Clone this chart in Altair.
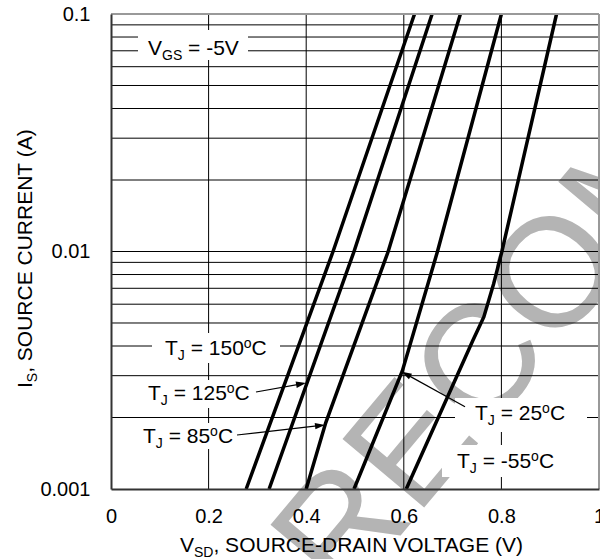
import math
import altair as alt
import pandas as pd

# ---------------- data ----------------
temps = ["150", "125", "85", "25", "-55"]
v_150 = [0.277, 0.455, 0.622]
i_150 = [0.001, 0.01, 0.1]
v_125 = [0.324, 0.498, 0.658]
i_125 = [0.001, 0.01, 0.1]
v_85 = [0.400, 0.440, 0.568, 0.716]
i_85 = [0.001, 0.0019, 0.01, 0.1]
v_25 = [0.498, 0.597, 0.669, 0.800]
i_25 = [0.001, 0.00314, 0.01, 0.1]
v_m55 = [0.605, 0.741, 0.764, 0.784, 0.801, 0.913]
i_m55 = [0.001, 0.0042, 0.0053, 0.0073, 0.01, 0.1]

x_ticks = [0, 0.2, 0.4, 0.6, 0.8, 1.0]
y_ticks = [0.001, 0.01, 0.1]
x_grid = [0.2, 0.4, 0.6, 0.8]
y_grid = [0.002, 0.003, 0.004, 0.005, 0.006, 0.007, 0.008, 0.009, 0.01,
          0.02, 0.03, 0.04, 0.05, 0.06, 0.07, 0.08, 0.09]

rows = []
for name, vs, iss in [("150", v_150, i_150), ("125", v_125, i_125), ("85", v_85, i_85),
                      ("25", v_25, i_25), ("-55", v_m55, i_m55)]:
    for v, i in zip(vs, iss):
        rows.append({"T": name, "v": v, "i": i})
df = pd.DataFrame(rows)

# ---------------- layout ----------------
FONT = "Liberation Sans"
W, H = 488, 475
PX0, PY0 = 111, 14
one = pd.DataFrame({"a": [0]})

CW = {" ": 278, ",": 278, "-": 333, ".": 278, "=": 584, "(": 333, ")": 333,
      "A": 667, "C": 722, "D": 722, "E": 667, "G": 778, "I": 278, "J": 500,
      "L": 556, "N": 722, "O": 778, "R": 722, "S": 667, "T": 611, "U": 722,
      "V": 667, "o": 556}
for d in "0123456789":
    CW[d] = 556


def tw(s, size):
    return sum(CW.get(c, 600) for c in s) / 1000.0 * size


def rich(segments, x0, y0, angle=0):
    """segments: (text, size, baseline shift); x0,y0 in page pixels."""
    out = []
    pos = 0.0
    for text, size, dy in segments:
        lead = len(text) - len(text.lstrip(" "))
        pos += tw(" " * lead, size)
        core = text.strip(" ")
        if angle == 0:
            x, y = x0 + pos, y0 + dy
        else:  # 270 degrees: text runs upward, shift goes right
            x, y = x0 + dy, y0 - pos
        out.append(
            alt.Chart(one).mark_text(text=core, fontSize=size, font=FONT, align="left",
                                     baseline="alphabetic", color="black", angle=angle)
            .encode(x=alt.value(x - PX0), y=alt.value(y - PY0))
        )
        pos += tw(text.lstrip(" "), size)
    return out


def box(x1, y1, x2, y2):
    return alt.Chart(one).mark_rect(fill="white", stroke=None).encode(
        x=alt.value(x1 - PX0), x2=alt.value(x2 - PX0),
        y=alt.value(y1 - PY0), y2=alt.value(y2 - PY0))


def arrow(tx, ty, hx, hy):
    dx, dy = hx - tx, hy - ty
    L = math.hypot(dx, dy)
    ang = math.degrees(math.atan2(dy, dx)) % 360
    ex, ey = hx - dx / L * 6, hy - dy / L * 6
    line = alt.Chart(one).mark_rule(color="black", strokeWidth=1.2).encode(
        x=alt.value(tx - PX0), y=alt.value(ty - PY0),
        x2=alt.value(ex - PX0), y2=alt.value(ey - PY0))
    head = alt.Chart(one).mark_point(shape="M0,0L-1,-0.32L-1,0.32Z", filled=True,
                                     color="black", opacity=1, size=400,
                                     angle=ang, strokeWidth=0).encode(
        x=alt.value(hx - PX0), y=alt.value(hy - PY0))
    return [line, head]


x_scale = alt.Scale(domain=[0, 1], nice=False, zero=False)
y_scale = alt.Scale(type="log", domain=[0.001, 0.1], nice=False)

y_label_expr = ("abs(datum.value-0.001)<1e-6 ? '0.001' : "
                "(abs(datum.value-0.01)<1e-6 ? '0.01' : "
                "(abs(datum.value-0.1)<1e-6 ? '0.1' : ''))")

x_axis = alt.Axis(values=x_ticks, format=".1~f", title=None, grid=False, ticks=False,
                  domain=True, domainColor="#333333", domainWidth=2,
                  labelFont=FONT, labelFontSize=20, labelColor="black",
                  labelPadding=17, labelFlush=False, labelOverlap=False, zindex=1)
y_axis = alt.Axis(values=y_ticks, labelExpr=y_label_expr, title=None, grid=False,
                  ticks=False, domain=True, domainColor="#333333", domainWidth=2,
                  labelFont=FONT, labelFontSize=20, labelColor="black",
                  labelPadding=21, labelFlush=False, labelOverlap=False, zindex=1)

# watermark
watermark = alt.Chart(one).mark_text(text="RECOMMENDED", fontSize=155, font=FONT,
                                     align="left", baseline="alphabetic",
                                     color="#b4b4b4", angle=310).encode(
    x=alt.value(344 - PX0), y=alt.value(603 - PY0))

grid_x = alt.Chart(pd.DataFrame({"gx": x_grid})).mark_rule(color="black", strokeWidth=1).encode(
    x=alt.X("gx:Q", scale=x_scale, axis=x_axis))
grid_y = alt.Chart(pd.DataFrame({"gy": y_grid})).mark_rule(color="black", strokeWidth=1).encode(
    y=alt.Y("gy:Q", scale=y_scale, axis=y_axis))

curves = alt.Chart(df).mark_line(color="black", strokeWidth=3.5).encode(
    x=alt.X("v:Q", scale=x_scale, axis=x_axis),
    y=alt.Y("i:Q", scale=y_scale, axis=y_axis),
    detail="T:N",
)

frame_top = alt.Chart(one).mark_rule(color="#999999", strokeWidth=2).encode(
    x=alt.value(0), x2=alt.value(W), y=alt.value(0))
frame_right = alt.Chart(one).mark_rule(color="#999999", strokeWidth=2).encode(
    x=alt.value(W), y=alt.value(0), y2=alt.value(H))

SUB, SUP = 4.5, -7.5
boxes = [
    box(138, 30, 248, 60),
    box(152, 333, 280, 363),
    box(142, 380, 256, 408),
    box(137, 423, 238, 449),
    box(455, 398, 587, 432),
    box(442, 445, 568, 477),
]
texts = []
texts += rich([("V", 21, 0), ("GS", 14, SUB), (" = -5V", 21, 0)], 148, 55)
texts += rich([("T", 21, 0), ("J", 14, SUB), (" = 150", 21, 0), ("o", 14, SUP), ("C", 21, 0)], 165, 355)
texts += rich([("T", 21, 0), ("J", 14, SUB), (" = 125", 21, 0), ("o", 14, SUP), ("C", 21, 0)], 148, 400)
texts += rich([("T", 21, 0), ("J", 14, SUB), (" = 85", 21, 0), ("o", 14, SUP), ("C", 21, 0)], 143, 443)
texts += rich([("T", 21, 0), ("J", 14, SUB), (" = 25", 21, 0), ("o", 14, SUP), ("C", 21, 0)], 475, 420)
texts += rich([("T", 21, 0), ("J", 14, SUB), (" = -55", 21, 0), ("o", 14, SUP), ("C", 21, 0)], 457, 468)
# axis titles
texts += rich([("V", 21, 0), ("SD", 14, SUB), (", SOURCE-DRAIN VOLTAGE (V)", 21, 0)], 180, 552)
texts += rich([("I", 21, 0), ("S", 14, SUB), (", SOURCE CURRENT (A)", 21, 0)], 32, 388, angle=270)

arrows = []
arrows += arrow(256, 392, 306, 383)
arrows += arrow(237, 435, 325, 425)
arrows += arrow(465, 406.7, 401.7, 371.7)

chart = alt.layer(
    watermark, grid_x, grid_y, curves, frame_top, frame_right, *boxes, *texts, *arrows
).properties(
    width=W, height=H,
    autosize=alt.AutoSizeParams(type="none"),
    padding={"left": PX0, "top": PY0, "right": 600 - PX0 - W, "bottom": 559 - PY0 - H},
    background="white",
).configure_view(strokeWidth=0)

chart.save("out.html", embed_options={"renderer": "svg", "actions": False})
